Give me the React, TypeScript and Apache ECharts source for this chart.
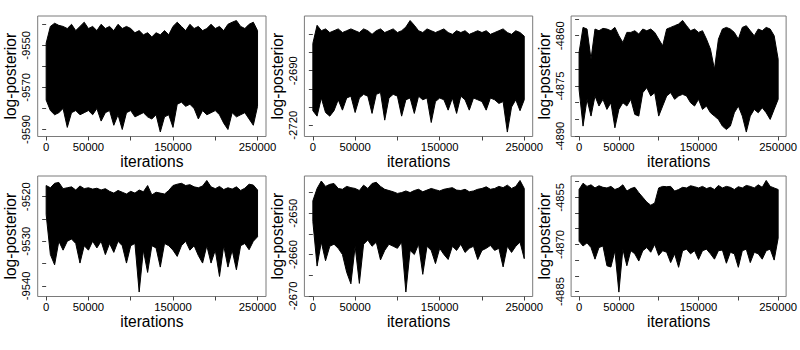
import React, { useEffect, useRef } from "react";
import * as echarts from "echarts";

const ITERATIONS = [
  0, 5000, 10000, 15000, 20000, 25000, 30000, 35000, 40000, 45000,
  50000, 55000, 60000, 65000, 70000, 75000, 80000, 85000, 90000, 95000,
  100000, 105000, 110000, 115000, 120000, 125000, 130000, 135000, 140000, 145000,
  150000, 155000, 160000, 165000, 170000, 175000, 180000, 185000, 190000, 195000,
  200000, 205000, 210000, 215000, 220000, 225000, 230000, 235000, 240000, 245000,
  250000,
];

const X_TICKS = [0, 50000, 100000, 150000, 200000, 250000];
const X_LABELS = [0, 50000, 150000, 250000];

// Panel 1 (upper envelope / lower envelope per 5000 iterations)
const P1_HI = [
  -9549, -9541, -9539.5, -9540.5, -9541, -9542, -9540, -9543, -9541, -9539,
  -9542, -9541, -9543, -9540, -9542, -9541, -9543, -9540, -9542, -9541,
  -9542, -9544, -9543, -9545, -9544, -9546, -9544, -9545, -9543, -9545,
  -9541, -9539, -9541, -9543, -9540, -9542, -9541, -9543, -9542, -9540,
  -9542, -9541, -9543, -9540, -9539, -9538.2, -9541, -9542, -9540, -9539,
  -9543,
];
const P1_LO = [
  -9576, -9581, -9583, -9582, -9580, -9589, -9582, -9581, -9583, -9582,
  -9581, -9583, -9580, -9586, -9582, -9581, -9588, -9583, -9590, -9582,
  -9581, -9584, -9583, -9582, -9584, -9585, -9583, -9591.2, -9584, -9583,
  -9589, -9578, -9577, -9579, -9578, -9580, -9585, -9581, -9583, -9582,
  -9581, -9583, -9587, -9590, -9582, -9584, -9583, -9582, -9585, -9588,
  -9579,
];
const P1_Y_TICKS = [-9590, -9580, -9570, -9560, -9550, -9540];
const P1_Y_LABELS = [-9590, -9570, -9550];

const P2_HI = [
  -2675, -2665, -2668, -2667, -2669, -2668, -2667, -2669, -2668, -2667,
  -2668, -2669, -2667, -2668, -2670, -2668, -2667, -2669, -2668, -2667,
  -2669, -2668, -2666, -2662.4, -2665, -2668, -2669, -2667, -2668, -2669,
  -2668, -2667, -2669, -2670, -2668, -2669, -2668, -2670, -2669, -2668,
  -2669, -2668, -2670, -2669, -2668, -2667, -2669, -2670, -2668, -2669,
  -2671,
];
const P2_LO = [
  -2712, -2715, -2705, -2713, -2715, -2712, -2706, -2711.7, -2705, -2704,
  -2713, -2705, -2703, -2704, -2713.5, -2703, -2702, -2717.2, -2705, -2703,
  -2704, -2715, -2706, -2705, -2713.5, -2704, -2706, -2705, -2718.5, -2707,
  -2705, -2706, -2711.7, -2705, -2713.5, -2704, -2706, -2711.7, -2705, -2706,
  -2707, -2711.7, -2705, -2706, -2708, -2707, -2723.75, -2710, -2706, -2712,
  -2706,
];
const P2_Y_TICKS = [-2720, -2710, -2700, -2690, -2680, -2670];
const P2_Y_LABELS = [-2720, -2690];

const P3_HI = [
  -4865, -4857.5, -4858, -4867, -4858, -4858.5, -4857.8, -4858, -4858.5, -4857.5,
  -4860, -4862, -4859, -4859, -4858.5, -4859.5, -4858, -4858.5, -4858, -4859,
  -4861, -4863, -4858, -4857.5, -4857, -4856.5, -4855.43, -4857, -4858.5, -4858,
  -4859, -4858.5, -4861, -4864, -4870, -4861, -4858, -4857.5, -4858, -4859,
  -4861, -4857.5, -4857, -4858.5, -4860, -4858, -4858.5, -4857.5, -4858, -4860,
  -4867,
];
const P3_LO = [
  -4876, -4887, -4879, -4884, -4878, -4881, -4879, -4882, -4880, -4887.5,
  -4882, -4880, -4881, -4879, -4883.5, -4884, -4877, -4875.5, -4878, -4877,
  -4884, -4881, -4878, -4877, -4879, -4878, -4877.5, -4878, -4880, -4881,
  -4879, -4882, -4881, -4883, -4884, -4885, -4887, -4888, -4887, -4883,
  -4881, -4884, -4888.77, -4884, -4882, -4883, -4881.5, -4883, -4885, -4882,
  -4879,
];
const P3_Y_TICKS = [-4890, -4885, -4880, -4875, -4870, -4865, -4860, -4855];
const P3_Y_LABELS = [-4890, -4875, -4860];

const P4_HI = [
  -9517.5, -9518, -9517, -9516.8, -9518.2, -9518, -9517.8, -9518.5, -9517.6, -9518.2,
  -9518, -9518.3, -9518.1, -9518.5, -9518.2, -9518.8, -9519.2, -9518.6, -9519, -9519.4,
  -9518.8, -9519.2, -9518.5, -9518.9, -9517.5, -9519.6, -9519, -9519.2, -9519.4, -9518.6,
  -9517.5, -9517.2, -9517, -9517.5, -9517.3, -9517.8, -9518, -9517.6, -9516.36, -9517.8,
  -9518.2, -9517.7, -9518.4, -9518, -9518.3, -9517.8, -9518.6, -9518.1, -9517.2, -9517.4,
  -9518.5,
];
const P4_LO = [
  -9524, -9533, -9535.3, -9530, -9532, -9530, -9529.5, -9530.5, -9534.9, -9531,
  -9532, -9530, -9531.5, -9530, -9533, -9530.5, -9532.5, -9530, -9531, -9534.9,
  -9531, -9530.5, -9541.4, -9532, -9537, -9531, -9531.5, -9535.8, -9530.5, -9531,
  -9532, -9533.4, -9531, -9530, -9532, -9531, -9533.2, -9534.9, -9531, -9534.9,
  -9532, -9537.9, -9531, -9535.8, -9532, -9536.4, -9531, -9530.5, -9531.9, -9530,
  -9529,
];
const P4_Y_TICKS = [-9540, -9535, -9530, -9525, -9520];
const P4_Y_LABELS = [-9540, -9530, -9520];

const P5_HI = [
  -2647, -2644, -2642.2, -2643.5, -2643, -2642.8, -2644, -2644.2, -2643.5, -2643.8,
  -2644, -2644.5, -2643.2, -2644, -2642.8, -2642.5, -2643.5, -2644.2, -2644.5, -2644.8,
  -2645.2, -2645, -2644.6, -2645, -2644.5, -2644.2, -2644.8, -2644.4, -2644, -2644.3,
  -2644.6, -2644.2, -2644, -2643.8, -2644.4, -2644.5, -2644.2, -2644.8, -2644.6, -2644.2,
  -2644, -2643.6, -2644.2, -2644, -2643.5, -2643.8, -2643.2, -2644, -2643.5, -2642.06,
  -2644,
];
const P5_LO = [
  -2652, -2662.8, -2657, -2661.5, -2658, -2657.5, -2658.5, -2660, -2664.3, -2667.1,
  -2658, -2667, -2657.5, -2656.5, -2658, -2657, -2661.3, -2659, -2657.5, -2658,
  -2658.5, -2657, -2669.09, -2659, -2660, -2657.5, -2664.8, -2658, -2659, -2662.2,
  -2658.5, -2660, -2661.2, -2658, -2659, -2657.5, -2659.5, -2658.5, -2658, -2661.2,
  -2659, -2658.5, -2657.8, -2659, -2658.5, -2663, -2658, -2659.5, -2658, -2657,
  -2661,
];
const P5_Y_TICKS = [-2670, -2665, -2660, -2655, -2650, -2645];
const P5_Y_LABELS = [-2670, -2660, -2650];

const P6_HI = [
  -4852.5, -4850.5, -4851.5, -4851, -4852, -4851.3, -4851.8, -4852, -4851.5, -4852.5,
  -4852, -4851, -4853, -4852.2, -4851.8, -4853.5, -4855, -4856.5, -4857.5, -4856.8,
  -4852, -4851.5, -4851.6, -4851.5, -4853, -4852.5, -4851.8, -4852, -4851.3, -4851.6,
  -4852, -4851.5, -4852.2, -4851.8, -4852.5, -4851.2, -4852, -4851.5, -4851.8, -4852.5,
  -4851.6, -4852, -4851.2, -4851.5, -4852, -4851, -4851.8, -4849.6, -4851.5, -4852,
  -4852.5,
];
const P6_LO = [
  -4869, -4870.5, -4869.5, -4871, -4874.7, -4871, -4870.5, -4876.8, -4877.2, -4872,
  -4885.2, -4871.5, -4876.8, -4872, -4873, -4875.3, -4872, -4871, -4872.5, -4870,
  -4873.5, -4872, -4872.5, -4875.8, -4873, -4877.3, -4872, -4871.5, -4873, -4872,
  -4874.8, -4872, -4871.5, -4873, -4874.7, -4872, -4871.8, -4876, -4872.5, -4873,
  -4877.3, -4872, -4871.5, -4875.8, -4872.5, -4873, -4874.7, -4872, -4871.5, -4875,
  -4868,
];
const P6_Y_TICKS = [-4885, -4880, -4875, -4870, -4865, -4860, -4855, -4850];
const P6_Y_LABELS = [-4885, -4870, -4855];

const PANELS = [
  { hi: P1_HI, lo: P1_LO, yMin: -9593.33, yMax: -9536.05, ticks: P1_Y_TICKS, labels: P1_Y_LABELS },
  { hi: P2_HI, lo: P2_LO, yMin: -2726.2, yMax: -2659.9, ticks: P2_Y_TICKS, labels: P2_Y_LABELS },
  { hi: P3_HI, lo: P3_LO, yMin: -4890.1, yMax: -4854.1, ticks: P3_Y_TICKS, labels: P3_Y_LABELS },
  { hi: P4_HI, lo: P4_LO, yMin: -9542.4, yMax: -9515.36, ticks: P4_Y_TICKS, labels: P4_Y_LABELS },
  { hi: P5_HI, lo: P5_LO, yMin: -2670.17, yMax: -2640.98, ticks: P5_Y_TICKS, labels: P5_Y_LABELS },
  { hi: P6_HI, lo: P6_LO, yMin: -4886.6, yMax: -4848.19, ticks: P6_Y_TICKS, labels: P6_Y_LABELS },
];

const FONT = "'Liberation Sans', Arial, Helvetica, sans-serif";

export default function App() {
  const ref = useRef<HTMLDivElement>(null);
  useEffect(() => {
    if (!ref.current) return;
    const chart = echarts.init(ref.current, undefined, { renderer: "svg" });
    const colLeft = [37.7, 304.4, 571.1];
    const rowTop = [16, 176];
    const grids: any[] = [];
    const xAxes: any[] = [];
    const yAxes: any[] = [];
    const series: any[] = [];
    PANELS.forEach((p, k) => {
      const col = k % 3;
      const row = Math.floor(k / 3);
      grids.push({
        left: colLeft[col],
        top: rowTop[row],
        width: 228.3,
        height: 120.5,
        show: true,
        borderColor: "#7a7a7a",
        borderWidth: 1,
        backgroundColor: "transparent",
        containLabel: false,
      });
      xAxes.push({
        type: "value",
        gridIndex: k,
        min: -10000,
        max: 260000,
        splitLine: { show: false },
        axisLine: { show: false },
        axisTick: { show: true, customValues: X_TICKS, length: 4, lineStyle: { color: "#444" } },
        axisLabel: {
          show: true,
          customValues: X_LABELS,
          formatter: (v: number) => String(v),
          fontSize: 11.3,
          fontFamily: FONT,
          color: "#000",
          margin: 5,
          hideOverlap: false,
        },
        name: "iterations",
        nameLocation: "middle",
        nameGap: 13,
        nameTextStyle: { fontSize: 15.6, fontFamily: FONT, color: "#000", verticalAlign: "top" },
      });
      yAxes.push({
        type: "value",
        gridIndex: k,
        min: p.yMin,
        max: p.yMax,
        splitLine: { show: false },
        axisLine: { show: false },
        axisTick: { show: true, customValues: p.ticks, length: 4, lineStyle: { color: "#444" } },
        axisLabel: {
          show: true,
          customValues: p.labels,
          formatter: (v: number) => String(v),
          rotate: 90,
          fontSize: 11.3,
          fontFamily: FONT,
          color: "#000",
          margin: 6,
          hideOverlap: false,
        },
        name: "log-posterior",
        nameLocation: "middle",
        nameGap: 19,
        nameRotate: 90,
        nameTextStyle: { fontSize: 15.6, fontFamily: FONT, color: "#000" },
      });
      const n = Math.min(p.hi.length, p.lo.length, ITERATIONS.length);
      const rows: number[][] = [];
      for (let i = 0; i < n; i++) {
        rows.push([ITERATIONS[i], p.lo[i], p.hi[i]]);
      }
      series.push({
        type: "custom",
        xAxisIndex: k,
        yAxisIndex: k,
        data: rows,
        silent: true,
        encode: { x: 0, y: [1, 2] },
        renderItem: (params: any, api: any) => {
          if (params.dataIndexInside !== 0) return null;
          const top: number[][] = [];
          const bottom: number[][] = [];
          for (let i = 0; i < rows.length; i++) {
            top.push(api.coord([api.value(0, i), api.value(2, i)]));
            bottom.push(api.coord([api.value(0, i), api.value(1, i)]));
          }
          const pts = top.concat(bottom.reverse());
          return {
            type: "polygon",
            shape: { points: pts },
            style: { fill: "#000", stroke: "#000", lineWidth: 1, lineJoin: "miter" },
          };
        },
      });
    });
    chart.setOption({
      animation: false,
      backgroundColor: "#fff",
      grid: grids,
      xAxis: xAxes,
      yAxis: yAxes,
      series,
    });
    return () => chart.dispose();
  }, []);
  return (
    <div
      ref={ref}
      style={{ position: "fixed", left: 0, top: 0, width: 800, height: 350 }}
    />
  );
}
